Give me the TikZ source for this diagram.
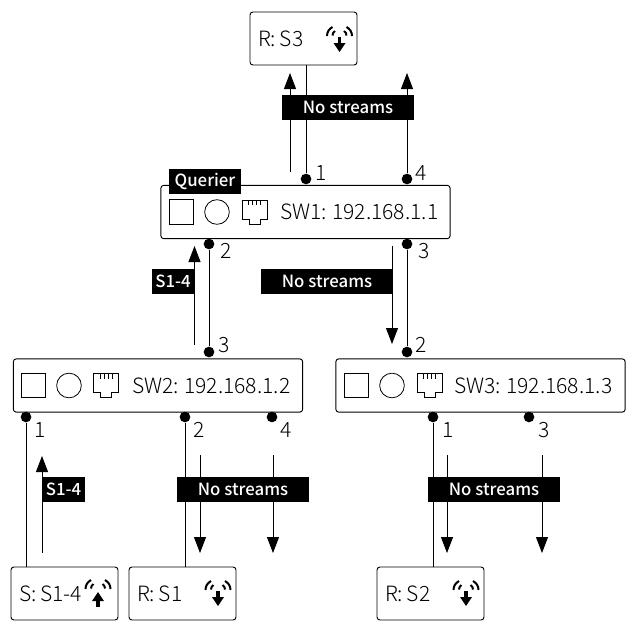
\documentclass[tikz,border=0pt]{standalone}
\usepackage{fontspec}
\setmainfont{Noto Sans CJK SC}[UprightFont=* Light, WordSpace=0.8]
\newfontfamily\tagfont{Noto Sans CJK SC}[UprightFont=* Medium]
\usetikzlibrary{arrows.meta, positioning}
\tikzset{
    hostbox/.style={draw, rounded corners=2.2pt, line width=0.7pt, outer sep=0pt, inner xsep=6pt, inner ysep=0pt, minimum width=80.25pt, minimum height=39.75pt, text width=68pt, align=none, font=\fontsize{15.8}{18}\selectfont},
    swbox/.style={draw, rounded corners=2.2pt, line width=0.7pt, outer sep=0pt, minimum width=217pt, minimum height=40pt},
    swtext/.style={anchor=west, inner sep=0pt, font=\fontsize{15.8}{18}\selectfont},
    portdot/.style={circle, fill=black, inner sep=0pt, minimum size=8pt},
    portnum/.style={inner sep=0pt, font=\fontsize{15.8}{18}\selectfont},
    blacktag/.style={fill=black, text=white, inner sep=0pt, minimum height=18.75pt, font=\tagfont\fontsize{12.6}{15}\selectfont},
    link/.style={line width=0.65pt},
    flow/.style={line width=0.65pt, -{Triangle[length=12pt, width=9pt]}},
    squareicon/.style={draw, line width=0.6pt, inner sep=0pt, minimum size=18.5pt},
    circleicon/.style={draw, circle, line width=0.6pt, inner sep=0pt, minimum size=18.5pt},
    pics/waves/.style={code={
        \draw[line width=1.5pt] (-12.5,-2) .. controls (-12.5,-6) and (-10.5,-9) .. (-7,-11);
        \draw[line width=1.5pt] (-7,-2.5) .. controls (-7,-4.5) and (-6,-6) .. (-4.5,-7);
        \draw[line width=1.5pt] (12.5,-2) .. controls (12.5,-6) and (10.5,-9) .. (7,-11);
        \draw[line width=1.5pt] (7,-2.5) .. controls (7,-4.5) and (6,-6) .. (4.5,-7);
    }},
    pics/recv/.style={code={
        \pic {waves};
        \draw[line width=2.6pt] (0,-1) -- (0,7);
        \fill (-6,5) -- (6,5) -- (0,14) -- cycle;
    }},
    pics/send/.style={code={
        \pic {waves};
        \draw[line width=2.6pt] (0,8) -- (0,16);
        \fill (-6,10) -- (6,10) -- (0,1) -- cycle;
    }},
    pics/rjport/.style={code={
        \draw[line width=0.6pt] (-12.5,-12) -- (12.5,-12) -- (12.5,7) -- (5.5,7) -- (5.5,12) -- (-5.5,12) -- (-5.5,7) -- (-12.5,7) -- cycle;
        \draw[line width=0.6pt] (-6,-12) -- (-6,-7) (-2,-12) -- (-2,-7) (2,-12) -- (2,-7) (6,-12) -- (6,-7);
    }},
}
\begin{document}
\begin{tikzpicture}[x=0.75pt, y=-0.75pt]
        \useasboundingbox (0,0) rectangle (628,621);
        % hosts
        \node[hostbox] (rsthree) at (303.5,38.5) {R: S3};
        \node[hostbox] (sone) at (64.5,593.5) {S: S1-4};
        \node[hostbox] (rsone) at (182.5,593.5) {R: S1};
        \node[hostbox] (rstwo) at (430.5,593.5) {R: S2};
        \pic at (339.5,38) {recv};
        \pic at (98,591) {send};
        \pic at (218,592) {recv};
        \pic at (466,592) {recv};
        % switches
        \node[swbox] (swone) at (305.5,212) {};
        \node[squareicon] (sqone) at (181.5,212) {};
        \node[circleicon] (cione) at (217,212) {};
        \pic at (254.5,212) {rjport};
        \node[swtext] (txone) at (280,212) {SW1: 192.168.1.1};
        \node[swbox] (swtwo) at (158,385.5) {};
        \node[squareicon] (sqtwo) at (33.5,385.5) {};
        \node[circleicon] (citwo) at (69,385.5) {};
        \pic at (106,385.5) {rjport};
        \node[swtext] (txtwo) at (132,385.5) {SW2: 192.168.1.2};
        \node[swbox] (swthree) at (480.5,385.5) {};
        \node[squareicon] (sqthree) at (356.5,385.5) {};
        \node[circleicon] (cithree) at (392,385.5) {};
        \pic at (429.5,385.5) {rjport};
        \node[swtext] (txthree) at (454,385.5) {SW3: 192.168.1.3};
        % ports
        \node[portdot] (aone) at (306,179) {};
        \node[portnum] at (321,173) {1};
        \node[portdot] (afour) at (407,179) {};
        \node[portnum] at (421,173) {4};
        \node[portdot] (atwo) at (209,244) {};
        \node[portnum] at (226,251) {2};
        \node[portdot] (athree) at (407,244) {};
        \node[portnum] at (424,251) {3};
        \node[portdot] (bthree) at (209,352) {};
        \node[portnum] at (224,345) {3};
        \node[portdot] (ctwo) at (407,352) {};
        \node[portnum] at (421,345) {2};
        \node[portdot] (bone) at (26,417) {};
        \node[portnum] at (40,430) {1};
        \node[portdot] (btwo) at (185,417) {};
        \node[portnum] at (199,430) {2};
        \node[portdot] (bfour) at (272,417) {};
        \node[portnum] at (286,430) {4};
        \node[portdot] (cone) at (433,417) {};
        \node[portnum] at (448,430) {1};
        \node[portdot] (cthree) at (529,417) {};
        \node[portnum] at (544,430) {3};
        % links
        \draw[link] (aone) -- (aone |- rsthree.south);
        \draw[link] (atwo) -- (bthree);
        \draw[link] (athree) -- (ctwo);
        \draw[link] (bone) -- (bone |- sone.north);
        \draw[link] (btwo) -- (btwo |- rsone.north);
        \draw[link] (cone) -- (cone |- rstwo.north);
        % streams
        \coordinate (fa) at (290,172);
        \coordinate (fb) at (290,73);
        \coordinate (fc) at (194.5,345);
        \coordinate (fd) at (194.5,246);
        \coordinate (fe) at (392,246);
        \coordinate (ff) at (392,344);
        \coordinate (fg) at (42,553);
        \coordinate (fh) at (42,456);
        \coordinate (fi) at (200,455);
        \coordinate (fj) at (200,553);
        \coordinate (fk) at (273,455);
        \coordinate (fl) at (273,553);
        \coordinate (fm) at (447,455);
        \coordinate (fn) at (447,553);
        \coordinate (fo) at (542,455);
        \coordinate (fp) at (542,553);
        \draw[flow] (fa) -- (fb);
        \draw[flow] (afour) -- (afour |- fb);
        \draw[flow] (fc) -- (fd);
        \draw[flow] (fe) -- (ff);
        \draw[flow] (fg) -- (fh);
        \draw[flow] (fi) -- (fj);
        \draw[flow] (fk) -- (fl);
        \draw[flow] (fm) -- (fn);
        \draw[flow] (fo) -- (fp);
        % tags
        \node[blacktag, minimum width=99pt] (tagtop) at (348,107.5) {No streams};
        \node[blacktag, minimum width=54pt] (tagq) at (205,181.5) {Querier};
        \node[blacktag, minimum width=31.5pt] (tagsa) at (173,281.5) {S1-4};
        \node[blacktag, minimum width=99pt] (tagmid) at (327,281.5) {No streams};
        \node[blacktag, minimum width=32pt] (tagsb) at (63.5,489.5) {S1-4};
        \node[blacktag, minimum width=99pt] (tagl) at (243,489.5) {No streams};
        \node[blacktag, minimum width=99pt] (tagr) at (494,489.5) {No streams};
\end{tikzpicture}
\end{document}
